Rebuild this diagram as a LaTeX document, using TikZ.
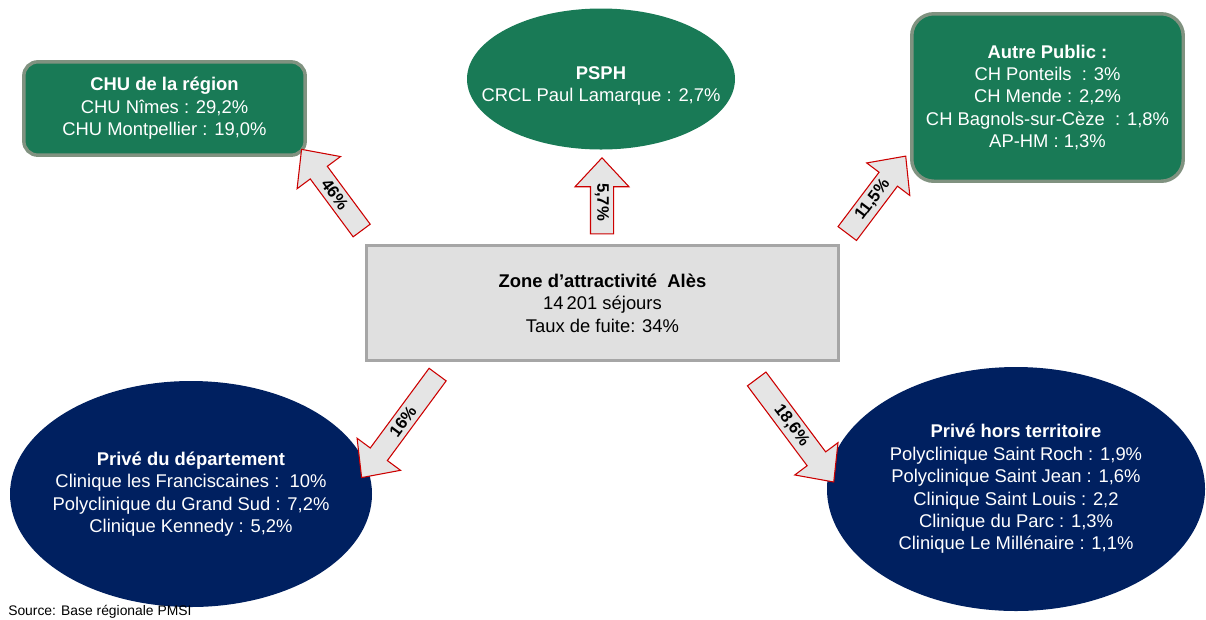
\documentclass[tikz,border=0pt]{standalone}
\usepackage{fontspec}
\setmainfont{Liberation Sans}
\usetikzlibrary{shapes.geometric, shapes.arrows, positioning, calc}

\definecolor{vertars}{RGB}{25,122,86}
\definecolor{bordvert}{RGB}{128,146,128}
\definecolor{marine}{RGB}{0,32,96}
\definecolor{grisfond}{RGB}{224,224,224}
\definecolor{grisbord}{RGB}{166,166,166}
\definecolor{rougefl}{RGB}{204,0,0}
\definecolor{grisfl}{RGB}{229,229,229}

\tikzset{
  texte/.style={align=center, font=\fontsize{13.8}{16.8}\selectfont},
  boitevert/.style={texte, draw=bordvert, line width=2.6pt, fill=vertars,
                    text=white, inner sep=0pt},
  bulle/.style={texte, ellipse, fill=#1, text=white, inner xsep=-20pt, inner ysep=0pt},
  zone/.style={texte, draw=grisbord, line width=2.25pt, fill=grisfond,
               minimum width=354pt, minimum height=86.25pt},
  fleche/.style={single arrow, draw=rougefl, fill=grisfl, line width=0.8pt,
                 sloped, allow upside down, inner sep=1pt,
                 minimum width=40.5pt, single arrow head extend=9pt,
                 single arrow tip angle=86,
                 font=\bfseries\fontsize{12.5}{15}\selectfont}
}

\begin{document}
\begin{tikzpicture}[x=0.75pt, y=-0.75pt]
  \useasboundingbox (0,0) rectangle (1206,619);
  \fill[white] (0,0) rectangle (1206,619);

  % centre
  \node[zone] (ales) at (602.5,303)
    {\textbf{Zone d’attractivité\ \ Alès}\\14\,201 séjours\\Taux de fuite: 34\%};

  % etablissements publics
  \node[boitevert, rounded corners=10.5pt, minimum width=211pt, minimum height=70pt]
    (chu) at (164.5,108.5)
    {\textbf{CHU de la région}\\CHU Nîmes : 29,2\%\\CHU Montpellier : 19,0\%};
  \node[bulle=vertars, minimum width=201pt, minimum height=105.75pt]
    (psph) at (601,79) {\rule{0pt}{20pt}\textbf{PSPH}\\CRCL Paul Lamarque : 2,7\%};
  \node[boitevert, rounded corners=16.5pt, minimum width=203.6pt, minimum height=125.6pt]
    (autre) at (1047.5,97.5)
    {\textbf{Autre Public :}\\CH Ponteils\ \ : 3\%\\CH Mende : 2,2\%\\
     CH Bagnols-sur-Cèze\ \ : 1,8\%\\AP-HM : 1,3\%};

  % etablissements prives
  \node[bulle=marine, minimum width=271.5pt, minimum height=169.5pt]
    (prdep) at (191,494)
    {\textbf{Privé du département}\\Clinique les Franciscaines :\ \ 10\%\\
     Polyclinique du Grand Sud : 7,2\%\\Clinique Kennedy : 5,2\%};
  \node[bulle=marine, minimum width=283.5pt, minimum height=183pt]
    (prhors) at (1016,489)
    {\textbf{Privé hors territoire}\\Polyclinique Saint Roch : 1,9\%\\
     Polyclinique Saint Jean : 1,6\%\\Clinique Saint Louis : 2,2\\
     Clinique du Parc : 1,3\%\\Clinique Le Millénaire : 1,1\%};

  % fleches de fuite
  \coordinate (p1) at (305,154);   \coordinate (q1) at (365,235);
  \coordinate (p2) at (602,164);   \coordinate (q2) at (602,240);
  \coordinate (p3) at (843.5,238.5); \coordinate (q3) at (902,161);
  \coordinate (p4) at (365,473);   \coordinate (q4) at (441,370);
  \coordinate (p5) at (753,374);   \coordinate (q5) at (830,477);
  \path (p1) -- node[fleche, shape border rotate=180, minimum height=75.75pt] (f1) {46\%} (q1);
  \path (p2) -- node[fleche, shape border rotate=180, minimum height=57pt] (f2) {5,7\%} (q2);
  \path (p3) -- node[fleche, minimum height=72.75pt] (f3) {11,5\%} (q3);
  \path (p4) -- node[fleche, shape border rotate=180, minimum height=96pt] (f4) {16\%} (q4);
  \path (p5) -- node[fleche, minimum height=96.5pt] (f5) {18,6\%} (q5);

  \node[anchor=west, inner sep=0pt, font=\fontsize{10.4}{12}\selectfont]
    (source) at (8,612) {Source: Base régionale PMSI};
\end{tikzpicture}
\end{document}
